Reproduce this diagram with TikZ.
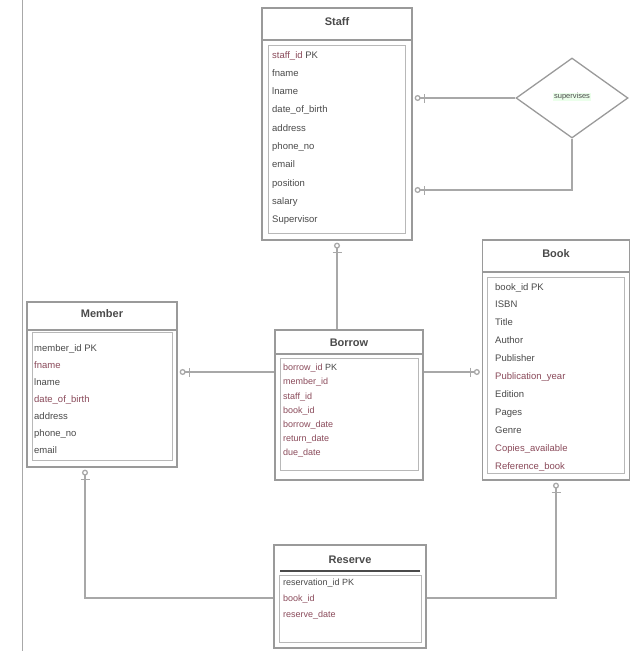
\documentclass[tikz,border=0pt]{standalone}
\usepackage{fontspec}
\setmainfont{Liberation Sans}
\usetikzlibrary{calc}
\usetikzlibrary{shapes.geometric}
\usetikzlibrary{arrows.meta}
\definecolor{boxgray}{HTML}{9A9A9A}
\definecolor{linegray}{HTML}{A8A8A8}
\definecolor{txtgray}{HTML}{4A4A4A}
\definecolor{fkred}{HTML}{8A4A5A}
\newcommand{\fk}[1]{\textcolor{fkred}{#1}}

\begin{document}
\begin{tikzpicture}[x=1pt, y=-1pt,
  entbox/.style={draw=boxgray, line width=1.3pt, fill=white, inner sep=0pt},
  attrbox/.style={draw=boxgray!70, line width=0.8pt, inner sep=0pt},
  ttl/.style={font=\fontsize{11}{12}\selectfont\bfseries, text=txtgray, inner sep=0pt},
  attr/.style={anchor=north west, align=left, inner sep=0pt, text=txtgray},
  rel/.style={draw=linegray, line width=1.3pt},
  ermark/.style={-{Bar[width=9pt,sep=3pt]Circle[open,length=6pt,width=6pt,sep=2pt]}}]
  \useasboundingbox (0,0) rectangle (637,651);
  \draw[linegray, line width=1pt] (22,0) -- (22,651);

  % Staff
  \node[entbox, minimum width=150, minimum height=232] (staff) at (337,124) {};
  \node[attrbox, minimum width=137, minimum height=188] (staffin) at (337,139) {};
  \draw[boxgray, line width=1.3pt] (262,40) -- (412,40);
  \node[ttl] (stafft) at (337,22) {Staff};
  \node[attr, font=\fontsize{9.5}{18.3}\selectfont] (staffa) at (272,51) {\fk{staff\_id} PK\\fname\\lname\\date\_of\_birth\\address\\phone\_no\\email\\position\\salary\\Supervisor};

  % supervises
  \node[diamond, draw=boxgray, line width=1.3pt, minimum width=112, minimum height=80, inner sep=0pt] (superv) at (572,98) {};
  \node[font=\fontsize{7.5}{8}\selectfont, text=txtgray, fill=green!8, inner sep=1pt] (supervt) at (572,97) {supervises};
  \coordinate (supcorner) at (572,190);

  % Member
  \node[entbox, minimum width=150, minimum height=165] (member) at (102,384.5) {};
  \node[attrbox, minimum width=140, minimum height=128] (memberin) at (102,396) {};
  \draw[boxgray, line width=1.3pt] (27,330) -- (177,330);
  \node[ttl] (membert) at (102,314) {Member};
  \node[attr, font=\fontsize{9.5}{17}\selectfont] (membera) at (34,344) {member\_id PK\\\fk{fname}\\lname\\\fk{date\_of\_birth}\\address\\phone\_no\\email};

  % Borrow
  \node[entbox, minimum width=148, minimum height=150] (borrow) at (349,405) {};
  \node[attrbox, minimum width=138, minimum height=112] (borrowin) at (349,414) {};
  \draw[boxgray, line width=1.3pt] (275,354) -- (423,354);
  \node[ttl] (borrowt) at (349,343) {Borrow};
  \node[attr, font=\fontsize{9}{14.2}\selectfont] (borrowa) at (283,364) {\fk{borrow\_id} PK\\\fk{member\_id}\\\fk{staff\_id}\\\fk{book\_id}\\\fk{borrow\_date}\\\fk{return\_date}\\\fk{due\_date}};

  % Book
  \node[entbox, minimum width=147, minimum height=240] (book) at (556,360) {};
  \node[attrbox, minimum width=137, minimum height=196] (bookin) at (556,375) {};
  \draw[boxgray, line width=1.3pt] (482.5,272) -- (629.5,272);
  \node[ttl] (bookt) at (556,254) {Book};
  \node[attr, font=\fontsize{9.5}{17.9}\selectfont] (booka) at (495,283) {book\_id PK\\ISBN\\Title\\Author\\Publisher\\\fk{Publication\_year}\\Edition\\Pages\\Genre\\\fk{Copies\_available}\\\fk{Reference\_book}};

  % Reserve
  \node[entbox, minimum width=152, minimum height=103] (reserve) at (350,596.5) {};
  \node[attrbox, minimum width=142, minimum height=67] (reservein) at (350,608.5) {};
  \draw[txtgray, line width=1.5pt] (280,571) -- (420,571);
  \node[ttl] (reservet) at (350,560) {Reserve};
  \node[attr, font=\fontsize{9}{16}\selectfont] (reservea) at (283,579) {reservation\_id PK\\\fk{book\_id}\\\fk{reserve\_date}};

  % relationships
  \draw[rel, ermark] (superv.west) -- (superv.west -| staff.east);
  \draw[rel, ermark] (superv.south) -- (supcorner) -- (supcorner -| staff.east);
  \draw[rel, ermark] (borrow.north -| staff.south) -- (staff.south);
  \draw[rel, ermark] (borrow.west |- 0,372) -- (member.east |- 0,372);
  \draw[rel, ermark] (borrow.east |- 0,372) -- (book.west |- 0,372);
  \draw[rel, ermark] (reserve.west |- 0,598) -- (85,598) -- (member.south -| 85,0);
  \draw[rel, ermark] (reserve.east |- 0,598) -| (book.south);
\end{tikzpicture}
\end{document}
